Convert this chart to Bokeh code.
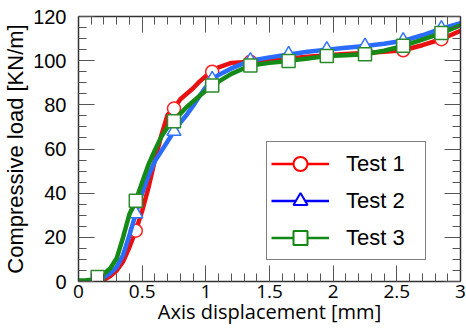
from bokeh.plotting import figure
from bokeh.models import (Range1d, LinearAxis, SingleIntervalTicker, Legend,
                          LegendItem, CustomJSTickFormatter)
from bokeh.embed import file_html
from bokeh.resources import INLINE

# ---- data ----
x_curve = [0.00, 0.05, 0.10, 0.15, 0.20, 0.25, 0.30, 0.35, 0.40, 0.45, 0.50,
           0.55, 0.60, 0.65, 0.70, 0.75, 0.80, 0.85, 0.90, 0.95, 1.00, 1.05,
           1.10, 1.20, 1.35, 1.50, 1.65, 1.80, 1.95, 2.10, 2.25, 2.40, 2.55,
           2.70, 2.85, 3.00]
test1 = [0, 0, 0, 0.3, 0.8, 2.5, 5, 9, 15.5, 23, 32,
         42.6, 55, 66, 75.5, 78.3, 82.5, 85, 87.5, 90.5, 93, 95,
         97, 99, 99.5, 100.3, 101, 101.8, 102.5, 103, 103.5, 104, 104.7,
         107, 109.7, 113.5]
test2 = [0, 0, 0.2, 0.8, 1.8, 3.8, 6.5, 12, 21, 30.7, 40,
         48, 54.5, 59, 63.5, 68, 72, 75.5, 79.5, 84, 88, 91.5,
         93.5, 96.5, 100, 101.5, 102.8, 104, 105, 105.8, 106.6, 107.7, 109,
         111.5, 114.5, 117]
test3 = [0.5, 0.5, 0.8, 2, 3.5, 6, 10.5, 20, 30.5, 36.6, 45,
         53, 59.5, 65.5, 70, 72.6, 76, 79, 81.5, 84, 86.5, 88.8,
         90.5, 94, 97.8, 99, 99.9, 101, 102.1, 102.5, 102.9, 104.5, 106.7,
         109.5, 112.5, 116]

x_marks = [0.15, 0.45, 0.75, 1.05, 1.35, 1.65, 1.95, 2.25, 2.55, 2.85]
test1_marks = [0.3, 23, 78.3, 95, 99.5, 101, 102.5, 103.5, 104.7, 109.7]
test2_marks = [0.8, 30.7, 68, 91.5, 100, 102.8, 105, 106.6, 109, 114.5]
test3_marks = [2, 36.6, 72.6, 88.8, 97.8, 99.9, 102.1, 102.9, 106.7, 112.5]

series_names = ["Test 1", "Test 2", "Test 3"]
x_ticks = [0, 0.5, 1, 1.5, 2, 2.5, 3]
x_tick_labels = ["0", "0.5", "1", "1.5", "2", "2.5", "3"]

# ---- figure ----
p = figure(width=466, height=332, output_backend="svg", toolbar_location=None,
           x_range=Range1d(0, 3), y_range=Range1d(0, 120),
           x_axis_type=None, y_axis_type=None,
           min_border_left=78, min_border_right=6,
           min_border_top=16, min_border_bottom=51)
p.outline_line_color = None
p.background_fill_color = "white"
p.border_fill_color = "white"
# range used only by the legend proxies (their marks fall outside the frame)
p.extra_y_ranges = {"legend_proxy": Range1d(1000, 1001)}


def make_axis(ticker, show):
    ax = LinearAxis(ticker=ticker)
    ax.axis_line_color = "#333333"
    ax.axis_line_width = 1.5
    ax.major_tick_in = 16
    ax.major_tick_out = 0
    ax.minor_tick_in = 8
    ax.minor_tick_out = 0
    ax.major_tick_line_color = "#555555"
    ax.minor_tick_line_color = "#555555"
    ax.major_tick_line_width = 1
    ax.minor_tick_line_width = 1
    if not show:
        ax.formatter = CustomJSTickFormatter(code="return ''")
        ax.major_label_text_font_size = "1px"
        ax.major_label_standoff = 0
    return ax


def xticker():
    return SingleIntervalTicker(interval=0.5, num_minor_ticks=5)


def yticker():
    return SingleIntervalTicker(interval=20, num_minor_ticks=4)


bottom = make_axis(xticker(), True)
bottom.axis_label = "Axis displacement [mm]"
bottom.axis_label_text_font = "Open Sans"
bottom.axis_label_text_font_size = "20px"
bottom.axis_label_text_font_style = "normal"
bottom.axis_label_text_color = "black"
bottom.axis_label_text_line_height = 1.0
bottom.axis_label_standoff = -3
bottom.major_label_text_font = "Open Sans"
bottom.major_label_text_font_size = "19px"
bottom.major_label_text_color = "black"
bottom.major_label_text_line_height = 1.0
bottom.major_label_standoff = 3
bottom.major_label_overrides = {t: s for t, s in zip(x_ticks, x_tick_labels)}

left = make_axis(yticker(), True)
left.axis_label = "Compressive load [KN/m]"
left.axis_label_text_font = "Liberation Sans"
left.axis_label_text_font_size = "22px"
left.axis_label_text_font_style = "normal"
left.axis_label_text_color = "black"
left.axis_label_standoff = 2
left.major_label_text_font = "Liberation Sans"
left.major_label_text_font_size = "20px"
left.major_label_text_color = "black"
left.major_label_standoff = 12

top = make_axis(xticker(), False)
right = make_axis(yticker(), False)

p.add_layout(bottom, "below")
p.add_layout(left, "left")
p.add_layout(top, "above")
p.add_layout(right, "right")

# ---- series ----
curve_colors = ["#e81010", "#2a6cff", "#168a16"]
mark_colors = ["#ff2020", "#3374ff", "#2a8a2a"]
legend_colors = ["#ff0000", "#0000ff", "#118811"]
markers = ["circle", "triangle", "square"]
mark_sizes = [13, 14, 13]
curves = [test1, test2, test3]
marks = [test1_marks, test2_marks, test3_marks]

items = []
for name, cc, mc, lc, mk, ms, yc, ym in zip(series_names, curve_colors, mark_colors,
                                           legend_colors, markers, mark_sizes,
                                           curves, marks):
    p.line(x_curve, yc, line_color=cc, line_width=4.5, line_join="round")
    p.scatter(x_marks, ym, marker=mk, size=ms, line_color=mc, line_width=1.5,
              fill_color="white")
    # legend proxies: same data, drawn on a range that puts them out of view
    lg_line = p.line(x_marks, ym, y_range_name="legend_proxy",
                     line_color=lc, line_width=2.5)
    lg_mark = p.scatter(x_marks, ym, y_range_name="legend_proxy", marker=mk,
                        line_color=lc, line_width=2, fill_color="white")
    items.append(LegendItem(label=name, renderers=[lg_line, lg_mark]))

legend = Legend(items=items, location=(188, 21))
legend.padding = 4
legend.spacing = 2
legend.glyph_height = 35
legend.glyph_width = 58
legend.label_height = 35
legend.label_width = 75
legend.label_standoff = 17
legend.label_text_font = "Liberation Sans"
legend.label_text_font_size = "22px"
legend.label_text_color = "black"
legend.border_line_color = "black"
legend.border_line_width = 1.5
legend.background_fill_color = "white"
legend.background_fill_alpha = 1
legend.margin = 0
p.add_layout(legend, "center")

open("out.html", "w").write(file_html(p, INLINE))
